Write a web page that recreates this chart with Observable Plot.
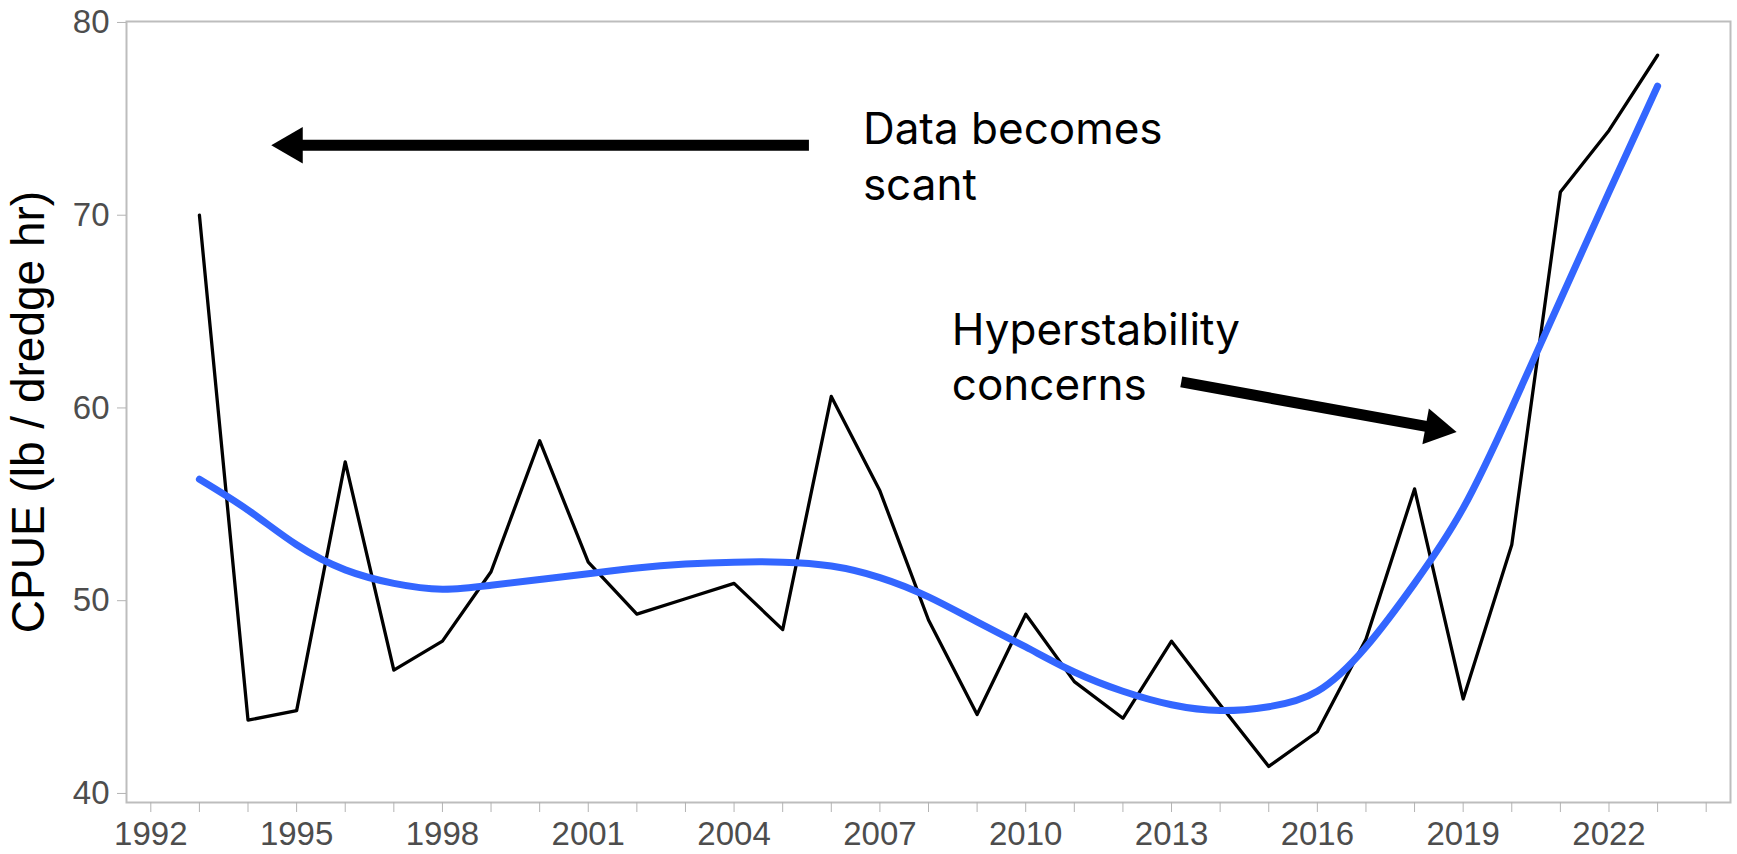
<!DOCTYPE html>
<html><head><meta charset="utf-8">
<script src="https://cdn.jsdelivr.net/npm/d3@7"></script>
<script src="https://cdn.jsdelivr.net/npm/@observablehq/plot@0.6"></script>
<style>html,body{margin:0;padding:0;background:#fff;} #chart svg{display:block;}</style>
</head><body><div id="chart"></div>
<script>
const years = [1993,1994,1995,1996,1997,1998,1999,2000,2001,2002,2003,2004,2005,2006,2007,2008,2009,2010,2011,2012,2013,2014,2015,2016,2017,2018,2019,2020,2021,2022,2023];
const cpue = [70.0,43.8,44.3,57.2,46.4,47.9,51.5,58.3,52.0,49.3,50.1,50.9,48.5,60.6,55.7,49.0,44.1,49.3,45.8,43.9,47.9,44.6,41.4,43.2,48.0,55.8,44.9,52.9,71.2,74.4,78.3];
const smooth = [56.3,54.7,52.9,51.6,50.9,50.6,50.8,51.1,51.4,51.7,51.9,52.0,52.0,51.8,51.2,50.2,48.9,47.6,46.3,45.3,44.6,44.3,44.5,45.3,47.6,50.9,54.8,60.0,65.6,71.2,76.7];
const xTickYears = [1992,1993,1994,1995,1996,1997,1998,1999,2000,2001,2002,2003,2004,2005,2006,2007,2008,2009,2010,2011,2012,2013,2014,2015,2016,2017,2018,2019,2020,2021,2022,2023,2024];
const labeledYears = [1992,1995,1998,2001,2004,2007,2010,2013,2016,2019,2022];
const yTicks = [40,50,60,70,80];
const yTitle = "CPUE (lb / dredge hr)";
const noteTexts = ["Data becomes\nscant", "Hyperstability\nconcerns"];
const noteYears = [2006.65, 2008.48];
const noteValues = [75.72, 65.31];
const shaftFrom = [[2005.54, 73.63], [2013.2, 61.35]];
const shaftTo = [[1995.0, 73.63], [2018.44, 58.95]];
const headAt = [[1994.91, 73.63], [2018.44, 58.95]];
const headAngle = [-90, 100.3];

const series = years.map((y, i) => ({year: y, cpue: cpue[i], smooth: smooth[i]}));
const notes = noteTexts.map((t, i) => ({text: t, x: noteYears[i], y: noteValues[i]}));
const shafts = shaftFrom.map((f, i) => ({x1: f[0], y1: f[1], x2: shaftTo[i][0], y2: shaftTo[i][1]}));
const heads = headAt.map((h, i) => ({x: h[0], y: h[1], rotate: headAngle[i]}));

const chart = Plot.plot({
  width: 1737,
  height: 854,
  marginLeft: 126,
  marginRight: 7,
  marginTop: 21,
  marginBottom: 52,
  style: {fontFamily: "'Liberation Sans', Arial, sans-serif", fontSize: "33px", background: "#fff"},
  x: {domain: [1991.5, 2024.5]},
  y: {domain: [39.53, 80.05]},
  marks: [
    Plot.frame({stroke: "#bdbdbd", strokeWidth: 2}),
    Plot.axisX({ticks: xTickYears, tickFormat: d => labeledYears.includes(d) ? String(d) : "", tickSize: 10, tickPadding: 9, stroke: "#b3b3b3", fill: "#4d4d4d", fontSize: 33, label: null}),
    Plot.axisY({ticks: yTicks, tickSize: 9, tickPadding: 8, stroke: "#b3b3b3", fill: "#4d4d4d", fontSize: 33, label: null}),
    Plot.text([yTitle], {frameAnchor: "left", textAnchor: "middle", rotate: -90, dx: -97, fontSize: 46, fill: "black"}),
    Plot.line(series, {x: "year", y: "cpue", stroke: "black", strokeWidth: 3.3}),
    Plot.line(series, {x: "year", y: "smooth", stroke: "#3366FF", strokeWidth: 7, curve: "natural"}),
    Plot.link(shafts, {x1: "x1", y1: "y1", x2: "x2", y2: "y2", stroke: "black", strokeWidth: 11, strokeLinecap: "butt"}),
    Plot.dot(heads, {x: "x", y: "y", rotate: "rotate", symbol: "triangle", r: 13.5, fill: "black", stroke: "none"}),
    Plot.text(notes, {x: "x", y: "y", text: "text", textAnchor: "start", lineAnchor: "top", lineHeight: 1.26, fontSize: 44, fontFamily: "Inter, 'Liberation Sans', sans-serif", fill: "black"})
  ]
});
document.getElementById("chart").appendChild(chart);
</script>
</body></html>
